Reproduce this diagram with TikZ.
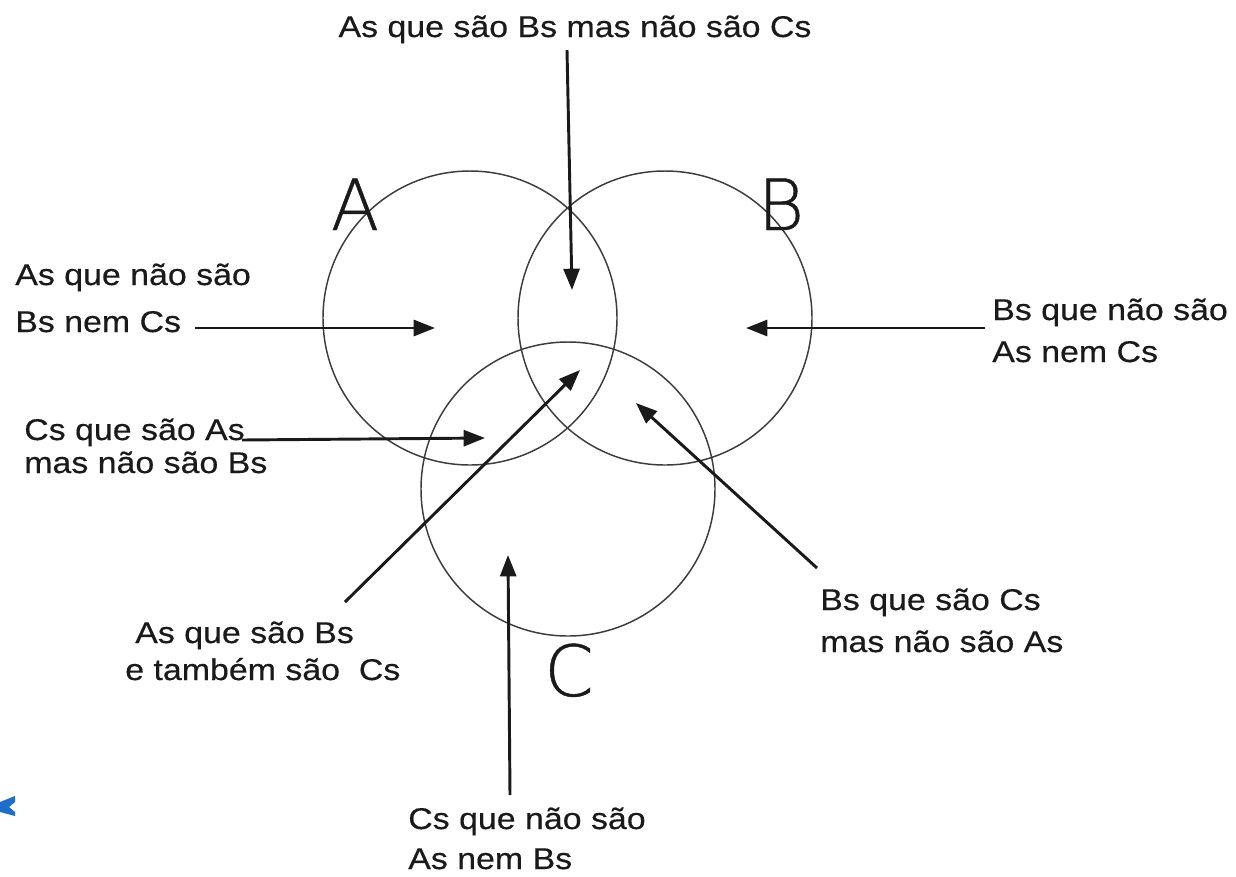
\documentclass[tikz,border=0pt]{standalone}
\usepackage{fontspec}
\setmainfont{Liberation Sans}[FakeStretch=1.13, FakeBold=0.4]
\newfontfamily\bigletter{DejaVu Sans ExtraLight}[FakeBold=0.6]
\usetikzlibrary{arrows.meta}
\definecolor{ink}{HTML}{1A1A1A}
\definecolor{ring}{HTML}{3C3C3C}
\definecolor{logoblue}{HTML}{1C6EC8}
\tikzset{
  setcircle/.style={draw=ring, line width=1.1pt},
  pointer/.style={draw=ink, line width=2.2pt, -{Triangle[length=16pt,width=12pt]}},
  lbl/.style={inner sep=0pt, anchor=base west, text=ink, font=\fontsize{22.5}{27}\selectfont},
  letter/.style={inner sep=0pt, anchor=base, text=ink, font=\bigletter\fontsize{53}{60}\selectfont},
}
\begin{document}
\begin{tikzpicture}[x=0.75pt, y=-0.75pt]
\useasboundingbox (0,0) rectangle (1236,876);
\fill[white] (0,0) rectangle (1236,876);

% circles
\draw[setcircle] (470,318) circle[radius=147];
\draw[setcircle] (665,318) circle[radius=147];
\draw[setcircle] (568,489) circle[radius=147];

% big letters
\node[letter] (la) at (355,230) {A};
\node[letter] (lb) at (781,230) {B};
\node[letter] (lc) at (569,696) {C};

% labels
\node[lbl, anchor=base] (top) at (575,37) {As que são Bs mas não são Cs};
\node[lbl] (l1a) at (15,285) {As que não são};
\node[lbl] (l1b) at (15,332) {Bs nem Cs};
\node[lbl] (l2a) at (24,440) {Cs que são As};
\node[lbl] (l2b) at (24,473) {mas não são Bs};
\node[lbl] (r1a) at (992,320) {Bs que não são};
\node[lbl] (r1b) at (992,362) {As nem Cs};
\node[lbl] (m1a) at (135,643) {As que são Bs};
\node[lbl] (m1b) at (125,680) {e também são\ \ Cs};
\node[lbl] (r2a) at (820,610) {Bs que são Cs};
\node[lbl] (r2b) at (820,652) {mas não são As};
\node[lbl] (b1a) at (408,829) {Cs que não são};
\node[lbl] (b1b) at (408,869) {As nem Bs};

% arrow ends
\coordinate (s0) at (567,50);   \coordinate (t0) at (572,290);
\coordinate (s1) at (195,328);  \coordinate (t1) at (435,328);
\coordinate (s2) at (242,440);  \coordinate (t2) at (485,438);
\coordinate (s3) at (985,328);  \coordinate (t3) at (746,328);
\coordinate (s4) at (345,602);  \coordinate (t4) at (580,370);
\coordinate (s5) at (817,568);  \coordinate (t5) at (636,403);
\coordinate (s6) at (510,795);  \coordinate (t6) at (508,555);

\draw[pointer] (s0) -- (t0);
\draw[pointer] (s1) -- (t1);
\draw[pointer] (s2) -- (t2);
\draw[pointer] (s3) -- (t3);
\draw[pointer] (s4) -- (t4);
\draw[pointer] (s5) -- (t5);
\draw[pointer] (s6) -- (t6);

% logo fragment
\fill[logoblue] (0,802) -- (15,796) -- (15,802) -- (9,807) -- (15,812) -- (15,816) -- (0,812) -- cycle;
\end{tikzpicture}
\end{document}
